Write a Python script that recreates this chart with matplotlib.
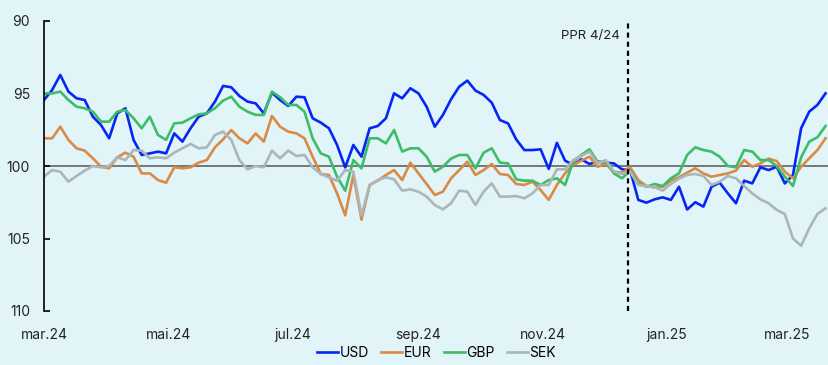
import matplotlib

matplotlib.use("Agg")
import matplotlib.pyplot as plt  # noqa: E402
import pandas as pd  # noqa: E402

plt.rcParams["font.family"] = ["Inter", "DejaVu Sans"]

# Currency indices (100 = reference level, higher = weaker NOK), sampled every 4 days
dates = pd.date_range("2024-03-01", periods=97, freq="4D")

usd = [95.45, 94.76, 93.72, 94.87, 95.33, 95.45, 96.60, 97.17, 98.09, 96.37,
       96.02, 98.20, 99.24, 99.13, 99.01, 99.13, 97.75, 98.32, 97.40, 96.60,
       96.37, 95.56, 94.48, 94.57, 95.17, 95.56, 95.68, 96.37, 94.94, 95.45,
       95.86, 95.22, 95.26, 96.71, 97.01, 97.40, 98.55, 100.10, 98.55, 99.36,
       97.40, 97.24, 96.71, 94.99, 95.33, 94.64, 94.99, 95.91, 97.29, 96.48,
       95.40, 94.53, 94.11, 94.80, 95.10, 95.63, 96.83, 97.06, 98.16, 98.90,
       98.90, 98.85, 100.20, 98.40, 99.63, 99.93, 99.54, 99.86, 99.70, 99.77,
       99.82, 100.23, 100.28, 102.34, 102.53, 102.30, 102.16, 102.34, 101.43, 103.00,
       102.50, 102.80, 101.43, 101.15, 101.89, 102.57, 101.01, 101.20, 100.09, 100.28,
       100.05, 101.20, 100.62, 97.40, 96.25, 95.79, 94.99]

eur = [98.09, 98.09, 97.29, 98.20, 98.78, 98.94, 99.47, 100.05, 100.16, 99.40,
       99.08, 99.36, 100.51, 100.51, 100.97, 101.15, 100.09, 100.16, 100.09, 99.77,
       99.59, 98.71, 98.16, 97.52, 98.09, 98.44, 97.75, 98.32, 96.55, 97.29,
       97.63, 97.75, 98.09, 99.36, 100.55, 100.62, 101.89, 103.40, 100.62, 103.70,
       101.31, 101.01, 100.62, 100.28, 100.97, 99.77, 100.51, 101.24, 102.00, 101.77,
       100.85, 100.28, 99.70, 100.62, 100.28, 99.86, 100.55, 100.62, 101.24, 101.31,
       101.08, 101.66, 102.34, 101.31, 100.51, 99.93, 99.63, 99.36, 100.05, 99.86,
       100.39, 100.46, 100.09, 100.97, 101.38, 101.47, 101.43, 101.01, 100.78, 100.46,
       100.16, 100.51, 100.74, 100.62, 100.51, 100.32, 99.59, 100.05, 99.82, 99.49,
       99.66, 100.39, 100.85, 100.05, 99.47, 98.90, 98.09]

gbp = [94.99, 94.99, 94.87, 95.45, 95.91, 96.02, 96.25, 96.94, 96.94, 96.25,
       96.14, 96.71, 97.40, 96.60, 97.86, 98.20, 97.06, 97.01, 96.71, 96.44,
       96.37, 96.02, 95.49, 95.22, 95.91, 96.25, 96.48, 96.48, 94.87, 95.26,
       95.79, 95.79, 96.25, 98.09, 99.13, 99.36, 100.74, 101.70, 99.59, 100.16,
       98.09, 98.09, 98.44, 97.52, 99.01, 98.78, 98.78, 99.36, 100.39, 100.05,
       99.49, 99.24, 99.24, 100.16, 99.08, 98.78, 99.77, 99.82, 100.92, 101.01,
       101.01, 101.31, 100.97, 100.85, 101.31, 99.70, 99.24, 98.85, 99.70, 99.70,
       100.51, 100.85, 100.32, 101.20, 101.43, 101.24, 101.38, 100.85, 100.51, 99.24,
       98.71, 98.90, 99.01, 99.36, 100.00, 100.09, 98.90, 99.01, 99.59, 99.59,
       100.00, 100.74, 101.38, 99.40, 98.32, 98.02, 97.24]

sek = [100.74, 100.28, 100.39, 101.08, 100.69, 100.32, 100.00, 100.09, 100.00, 99.40,
       99.59, 98.90, 98.94, 99.47, 99.40, 99.47, 99.08, 98.78, 98.48, 98.78,
       98.71, 97.86, 97.63, 98.20, 99.59, 100.23, 100.00, 100.09, 98.94, 99.47,
       98.94, 99.31, 99.24, 100.09, 100.55, 100.78, 101.01, 100.28, 100.39, 103.40,
       101.31, 100.97, 100.78, 100.92, 101.70, 101.61, 101.77, 102.11, 102.69, 102.99,
       102.57, 101.70, 101.77, 102.69, 101.77, 101.20, 102.11, 102.11, 102.07, 102.23,
       101.89, 101.31, 101.31, 100.23, 100.23, 99.59, 99.31, 99.01, 99.82, 99.59,
       100.39, 100.55, 100.39, 101.31, 101.38, 101.47, 101.70, 101.24, 100.87, 100.62,
       100.55, 100.69, 101.31, 101.08, 100.69, 100.85, 101.38, 101.89, 102.30, 102.57,
       103.03, 103.31, 105.00, 105.50, 104.30, 103.31, 102.92]

series = [("USD", usd, "#0526f5"), ("EUR", eur, "#db8a46"),
          ("GBP", gbp, "#3dbd68"), ("SEK", sek, "#abb6bb")]

ppr_date = pd.Timestamp("2024-12-13")
tick_dates = pd.to_datetime(["2024-03-01", "2024-05-01", "2024-07-01", "2024-09-01",
                             "2024-11-01", "2025-01-01", "2025-03-01"])
tick_labels = ["mar.24", "mai.24", "jul.24", "sep.24", "nov.24", "jan.25", "mar.25"]

bg = "#e1f4f8"
fig = plt.figure(figsize=(8.29, 3.65), dpi=100, facecolor=bg)
ax = fig.add_axes([44 / 829, 54 / 365, 785 / 829, 290 / 365], facecolor=bg)

ax.axhline(100, color="#555555", lw=1.1, zorder=1)
for name, vals, col in series:
    ax.plot(dates, vals, color=col, lw=1.9, label=name, zorder=2)

ax.axvline(ppr_date, color="black", lw=1.6, ls=(0, (2.3, 1.8)), zorder=3)
ax.annotate("PPR 4/24", xy=(ppr_date, 91), xytext=(-6, 0), textcoords="offset points",
            ha="right", va="center", fontsize=9.5, color="#222222")

ax.set_ylim(110, 90)
ax.set_yticks([90, 95, 100, 105, 110])
ax.set_xlim(pd.Timestamp("2024-03-01"), pd.Timestamp("2024-03-01") + pd.Timedelta(days=385.7))
ax.set_xticks(tick_dates)
ax.set_xticklabels(tick_labels)

for side in ("top", "right", "bottom"):
    ax.spines[side].set_visible(False)
ax.spines["left"].set_linewidth(1.2)
ax.tick_params(axis="y", direction="in", length=4, width=1.2, pad=10,
               labelsize=10, labelcolor="#222222")
ax.tick_params(axis="x", length=0, pad=12, labelsize=10, labelcolor="#222222")

fig.legend(loc="center", bbox_to_anchor=(436.5 / 829, 12 / 365), ncol=4, frameon=False,
           handlelength=1.5, handletextpad=0.1, columnspacing=0.9, fontsize=10)

fig.savefig("out.png", dpi=100, facecolor=bg)
